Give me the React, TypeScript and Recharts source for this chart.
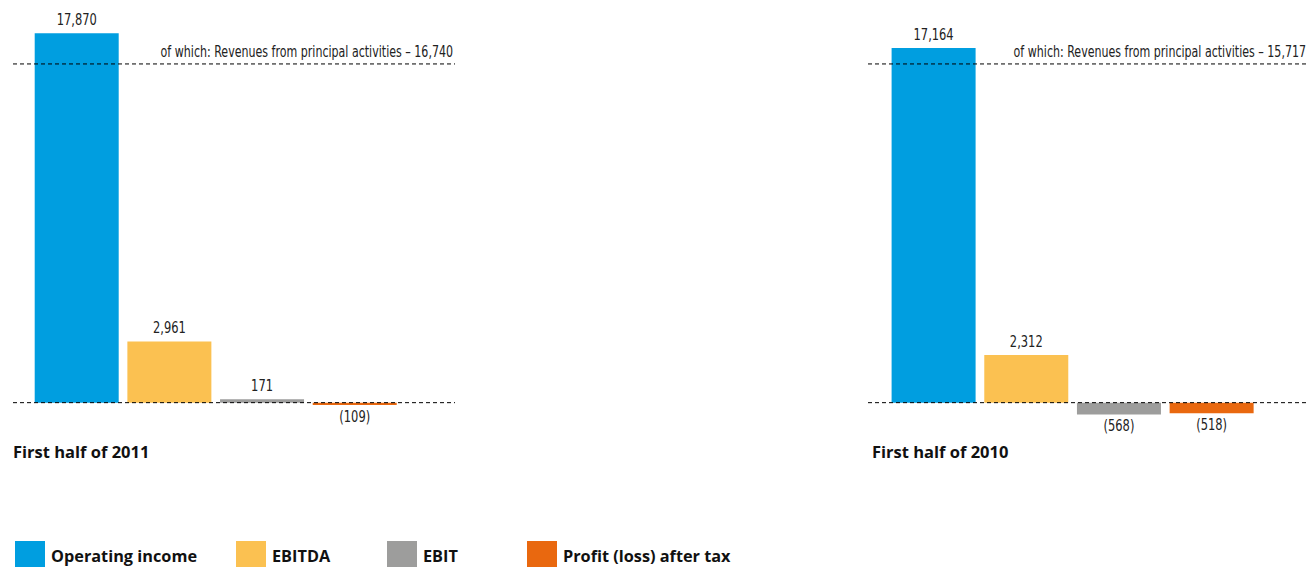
import { BarChart, Bar, XAxis, YAxis, Cell, LabelList, ReferenceLine } from 'recharts';

const categories = ['Operating income', 'EBITDA', 'EBIT', 'Profit (loss) after tax'];
const colors = ['#009ee0', '#fbc151', '#9d9d9c', '#e9680f'];
const values2011 = [17870, 2961, 171, -109];
const values2010 = [17164, 2312, -568, -518];
const principal2011 = 16740;
const principal2010 = 15717;
const periods = ['First half of 2011', 'First half of 2010'];

// the "of which" line sits at the same height in both panels in the original
const GUIDE_LEVEL = 16390;

const narrow = "'Liberation Sans Narrow', 'DejaVu Sans Condensed', sans-serif";
const bold = "'Open Sans', 'Noto Sans', sans-serif";

const fmt = (v: number) =>
  v < 0 ? `(${Math.abs(v).toLocaleString('en-US')})` : v.toLocaleString('en-US');

// no condensed font installed, so squeeze horizontally
const NarrowText = ({ x, y, anchor, squeeze = 0.85, children }: any) => (
  <text
    transform={`translate(${x},${y}) scale(${squeeze},1)`}
    textAnchor={anchor}
    fontFamily={narrow}
    fontSize={15}
    fill="#222"
  >
    {children}
  </text>
);

const ValueLabel = (props: any) => {
  const { x, y, width, height, value } = props;
  const top = Math.min(y, y + height);
  const bottom = Math.max(y, y + height);
  return (
    <NarrowText x={x + width / 2} y={value < 0 ? bottom + 17 : top - 8} anchor="middle">
      {fmt(value)}
    </NarrowText>
  );
};

interface PanelProps {
  values: number[];
  principal: number;
  title: string;
  left: number;
  width: number;
  padLeft: number;
  padRight: number;
  titleLeft: number;
}

function Panel({ values, principal, title, left, width, padLeft, padRight, titleLeft }: PanelProps) {
  const data = categories.map((name, i) => ({ name, value: values[i] }));
  return (
    <div style={{ position: 'absolute', left, top: 0 }}>
      <BarChart width={width} height={470} data={data} margin={{ top: 10, right: 0, left: 13, bottom: 26 }}>
        <XAxis dataKey="name" hide padding={{ left: padLeft, right: padRight }} />
        <YAxis hide domain={[-2000, 19000]} />
        <ReferenceLine
          y={GUIDE_LEVEL}
          stroke="#000"
          strokeDasharray="4 3"
          label={(p: any) => {
            const vb = p.viewBox;
            return (
              <NarrowText x={vb.x + vb.width - 2} y={vb.y - 7} anchor="end" squeeze={0.82}>
                {`of which: Revenues from principal activities – ${principal.toLocaleString('en-US')}`}
              </NarrowText>
            );
          }}
        />
        <ReferenceLine y={0} stroke="#000" strokeDasharray="4 3" />
        <Bar dataKey="value" barSize={84} isAnimationActive={false}>
          {data.map((d, i) => (
            <Cell key={d.name} fill={colors[i]} />
          ))}
          <LabelList dataKey="value" content={ValueLabel} />
        </Bar>
      </BarChart>
      <div
        style={{
          position: 'absolute',
          left: titleLeft,
          top: 440,
          fontFamily: bold,
          fontWeight: 700,
          fontSize: 16.5,
          color: '#111',
          whiteSpace: 'nowrap',
        }}
      >
        {title}
      </div>
    </div>
  );
}

const legendLefts = [15, 236, 387, 527];

export default function App() {
  return (
    <div
      style={{
        position: 'absolute',
        left: 0,
        top: 0,
        width: 1308,
        height: 567,
        overflow: 'hidden',
        background: '#fff',
      }}
    >
      <Panel values={values2011} principal={principal2011} title={periods[0]} left={0} width={455} padLeft={17.7} padRight={53.6} titleLeft={13} />
      <Panel values={values2010} principal={principal2010} title={periods[1]} left={855} width={453} padLeft={19.6} padRight={49.7} titleLeft={17} />
      {categories.map((c, i) => (
        <div key={c} style={{ position: 'absolute', left: legendLefts[i], top: 541, display: 'flex', alignItems: 'flex-start' }}>
          <div style={{ width: 30, height: 30, background: colors[i] }} />
          <div
            style={{
              marginLeft: 6,
              marginTop: 4,
              fontFamily: bold,
              fontWeight: 700,
              fontSize: 16.3,
              color: '#111',
              whiteSpace: 'nowrap',
            }}
          >
            {c}
          </div>
        </div>
      ))}
    </div>
  );
}
